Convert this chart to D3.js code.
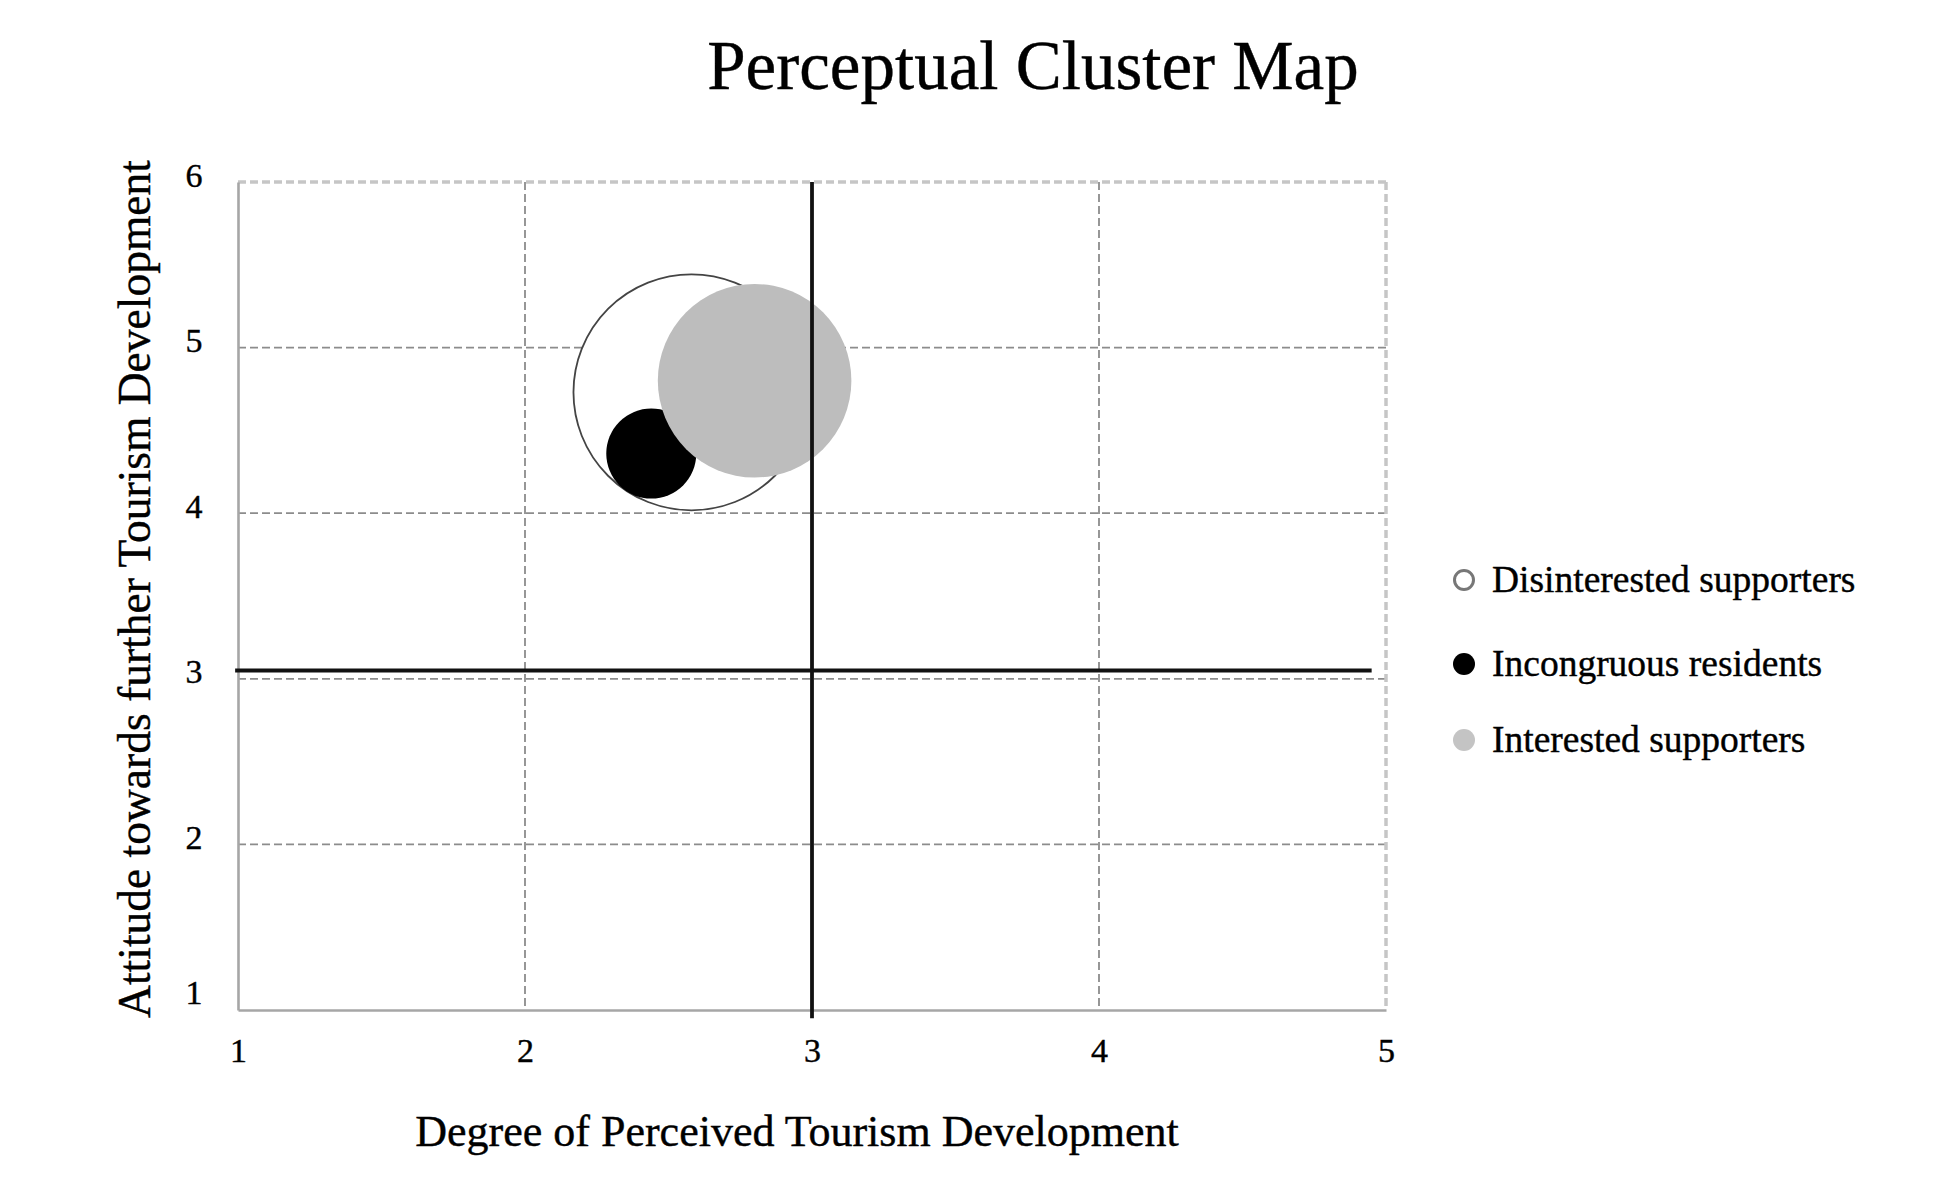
<!DOCTYPE html>
<html>
<head>
<meta charset="utf-8">
<script src="https://cdn.jsdelivr.net/npm/d3@7"></script>
<style>
    body { margin: 0; background: #fff; }
    text { font-family: "Liberation Serif", "DejaVu Serif", serif; fill: #000; stroke: #000; stroke-width: 0.4px; }
</style>
</head>
<body>
<div id="chart"></div>
<script>
// clusters
var clusters = ["Disinterested supporters", "Incongruous residents", "Interested supporters"];
var perceived = [2.58, 2.44, 2.80];   // x: degree of perceived tourism development
var attitude = [4.73, 4.36, 4.80];    // y: attitude towards further development
var clusterSize = [55, 8, 37];        // bubble size (share of respondents)
var xTicks = [1, 2, 3, 4, 5];
var yTicks = [1, 2, 3, 4, 5, 6];
var refX = 3.0, refY = 3.05;

(function() {
    var baseWidth = 1942,
        baseHeight = 1202;

    var margin = {top: 182, right: 556, bottom: 192, left: 238},
        width = baseWidth - margin.left - margin.right,
        height = baseHeight - margin.top - margin.bottom;

    var x = d3.scaleLinear().domain([1, 5]).range([0, width]),
        y = d3.scaleLinear().domain([1, 6]).range([height, 0]),
        r = d3.scaleSqrt().domain([0, 55]).range([0, 118]);

    var fills = ["#fff", "#000", "#bdbdbd"];
    var strokes = ["#444", "none", "none"];

    var data = clusters.map(function(c, i) {
        return {name: c, x: perceived[i], y: attitude[i], size: clusterSize[i], fill: fills[i], stroke: strokes[i]};
    });

    var root = d3.select("#chart")
        .append("svg")
            .attr("width", baseWidth)
            .attr("height", baseHeight);

    root.append("text")
        .attr("x", 1033)
        .attr("y", 89)
        .attr("text-anchor", "middle")
        .style("font-size", "69px")
        .text("Perceptual Cluster Map");

    var svg = root.append("g")
        .attr("transform", "translate(" + margin.left + "," + margin.top + ")");

    // grid lines
    svg.append("g")
        .selectAll("line")
        .data(yTicks.filter(function(d) { return d > 1; }))
        .enter()
        .append("line")
            .attr("x1", 0)
            .attr("x2", width)
            .attr("y1", y)
            .attr("y2", y)
            .style("stroke", function(d) { return d == 6 ? "#c6c6c6" : "#8c8c8c"; })
            .style("stroke-width", function(d) { return d == 6 ? 3.5 : 1.8; })
            .style("stroke-dasharray", "8,4");

    svg.append("g")
        .selectAll("line")
        .data(xTicks.filter(function(d) { return d > 1; }))
        .enter()
        .append("line")
            .attr("x1", x)
            .attr("x2", x)
            .attr("y1", 0)
            .attr("y2", height)
            .style("stroke", function(d) { return d == 5 ? "#c6c6c6" : "#8c8c8c"; })
            .style("stroke-width", function(d) { return d == 5 ? 3.5 : 1.8; })
            .style("stroke-dasharray", "8,4");

    // axes
    var xAxis = svg.append("g")
        .attr("transform", "translate(0," + height + ")")
        .call(d3.axisBottom(x).tickValues(xTicks).tickSize(0).tickPadding(28).tickFormat(d3.format("d")));

    var yAxis = svg.append("g")
        .call(d3.axisLeft(y).tickValues(yTicks).tickSize(0).tickPadding(34).tickFormat(d3.format("d")));

    [xAxis, yAxis].forEach(function(a) {
        a.select(".domain")
            .style("stroke", "#a6a6a6")
            .style("stroke-width", 2.6);
        a.selectAll("text")
            .style("font-size", "34px")
            .style("font-family", "Liberation Serif, serif")
            .style("fill", "#000");
    });
    yAxis.selectAll("text")
        .attr("text-anchor", "middle")
        .attr("x", -44)
        .attr("dy", function(d) { return d == 1 ? "-0.18em" : "0.12em"; });

    // bubbles
    svg.append("g")
        .selectAll("circle")
        .data(data)
        .enter()
        .append("circle")
            .attr("cx", function(d) { return x(d.x); })
            .attr("cy", function(d) { return y(d.y); })
            .attr("r", function(d) { return r(d.size); })
            .style("fill", function(d) { return d.fill; })
            .style("stroke", function(d) { return d.stroke; })
            .style("stroke-width", 1.8);

    // reference lines dividing the quadrants
    svg.append("line")
        .attr("x1", x(0.99))
        .attr("x2", x(4.95))
        .attr("y1", y(refY))
        .attr("y2", y(refY))
        .style("stroke", "#111")
        .style("stroke-width", 3.8);

    svg.append("line")
        .attr("x1", x(refX))
        .attr("x2", x(refX))
        .attr("y1", y(6))
        .attr("y2", y(0.95))
        .style("stroke", "#111")
        .style("stroke-width", 3.8);

    // axis titles
    root.append("text")
        .attr("x", 797)
        .attr("y", 1146)
        .attr("text-anchor", "middle")
        .style("font-size", "44px")
        .text("Degree of Perceived Tourism Development");

    root.append("text")
        .attr("transform", "translate(150," + 589 + ") rotate(-90)")
        .attr("text-anchor", "middle")
        .style("font-size", "45.5px")
        .text("Attitude towards further Tourism Development");

    // legend
    var legendY = [0, 84, 160];
    var legend = root.append("g")
        .attr("transform", "translate(1464, 580)");

    var items = legend.selectAll(".item")
        .data(data)
        .enter()
        .append("g")
            .classed("item", true)
            .attr("transform", function(d, i) { return "translate(0," + legendY[i] + ")"; });

    items.append("circle")
        .attr("r", function(d, i) { return i == 0 ? 9.5 : 11; })
        .style("fill", function(d, i) { return i == 2 ? "#c4c4c4" : d.fill; })
        .style("stroke", function(d, i) { return i == 0 ? "#777" : "none"; })
        .style("stroke-width", 3);

    items.append("text")
        .attr("x", 28)
        .attr("y", 12)
        .style("font-size", "37.5px")
        .text(function(d) { return d.name; });
})()
</script>
</body>
</html>
